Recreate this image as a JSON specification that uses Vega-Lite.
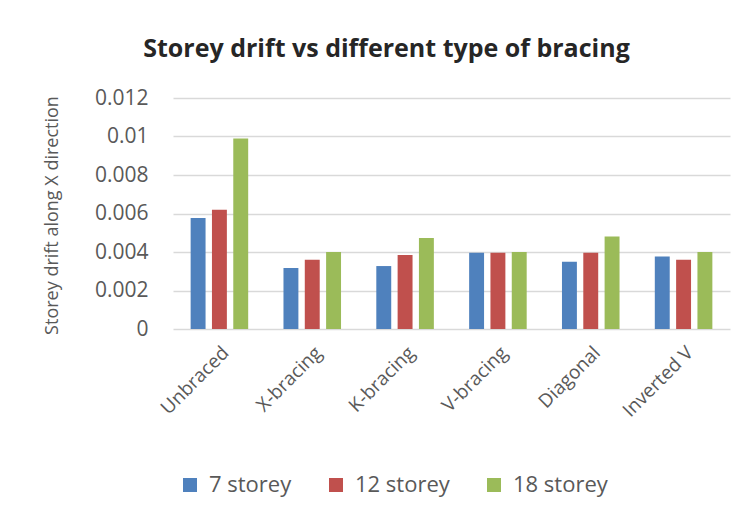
{
  "$schema": "https://vega.github.io/schema/vega-lite/v6.json",
  "autosize": "none",
  "width": 557,
  "height": 231,
  "padding": {"left": 173, "top": 98, "right": 23, "bottom": 189},
  "background": "white",
  "title": {
    "text": "Storey drift vs different type of bracing",
    "font": "Open Sans",
    "fontSize": 25,
    "fontWeight": "bold",
    "color": "#262626",
    "anchor": "middle",
    "dx": -65,
    "offset": 25
  },
  "data": {
    "values": [
      {"bracing": "Unbraced", "series": "7 storey", "drift": 0.00577},
      {"bracing": "Unbraced", "series": "12 storey", "drift": 0.0062},
      {"bracing": "Unbraced", "series": "18 storey", "drift": 0.0099},
      {"bracing": "X-bracing", "series": "7 storey", "drift": 0.00317},
      {"bracing": "X-bracing", "series": "12 storey", "drift": 0.0036},
      {"bracing": "X-bracing", "series": "18 storey", "drift": 0.004},
      {"bracing": "K-bracing", "series": "7 storey", "drift": 0.00327},
      {"bracing": "K-bracing", "series": "12 storey", "drift": 0.00384},
      {"bracing": "K-bracing", "series": "18 storey", "drift": 0.00473},
      {"bracing": "V-bracing", "series": "7 storey", "drift": 0.00396},
      {"bracing": "V-bracing", "series": "12 storey", "drift": 0.00396},
      {"bracing": "V-bracing", "series": "18 storey", "drift": 0.004},
      {"bracing": "Diagonal", "series": "7 storey", "drift": 0.0035},
      {"bracing": "Diagonal", "series": "12 storey", "drift": 0.00396},
      {"bracing": "Diagonal", "series": "18 storey", "drift": 0.0048},
      {"bracing": "Inverted V", "series": "7 storey", "drift": 0.00376},
      {"bracing": "Inverted V", "series": "12 storey", "drift": 0.0036},
      {"bracing": "Inverted V", "series": "18 storey", "drift": 0.004}
    ]
  },
  "mark": {"type": "bar"},
  "encoding": {
    "x": {
      "field": "bracing",
      "type": "nominal",
      "sort": null,
      "scale": {"paddingInner": 0.38, "paddingOuter": 0.19},
      "axis": {
        "title": null,
        "labelAngle": -45,
        "labelAlign": "right",
        "labelBaseline": "top",
        "labelFont": "Open Sans",
        "labelFontSize": 19,
        "labelColor": "#595959",
        "labelPadding": 14,
        "ticks": false,
        "domain": false
      }
    },
    "xOffset": {
      "field": "series",
      "type": "nominal",
      "sort": ["7 storey", "12 storey", "18 storey"],
      "scale": {"paddingInner": 0.3}
    },
    "y": {
      "field": "drift",
      "type": "quantitative",
      "scale": {"domain": [0, 0.012]},
      "axis": {
        "values": [0, 0.002, 0.004, 0.006, 0.008, 0.01, 0.012],
        "format": "~g",
        "title": "Storey drift along X direction",
        "titleFont": "Open Sans",
        "titleFontSize": 18,
        "titleFontWeight": "normal",
        "titleColor": "#595959",
        "titleAngle": -90,
        "titleX": -121,
        "titleY": 117,
        "titleAlign": "center",
        "titleBaseline": "middle",
        "labelFont": "Open Sans",
        "labelFontSize": 21,
        "labelColor": "#595959",
        "labelPadding": 25,
        "ticks": false,
        "domain": false,
        "grid": true,
        "gridColor": "#d9d9d9",
        "gridWidth": 1.5
      }
    },
    "color": {
      "field": "series",
      "type": "nominal",
      "sort": ["7 storey", "12 storey", "18 storey"],
      "scale": {"domain": ["7 storey", "12 storey", "18 storey"], "range": ["#4F81BD", "#C0504D", "#9BBB59"]},
      "legend": {
        "title": null,
        "orient": "none",
        "direction": "horizontal",
        "legendX": 6,
        "legendY": 376,
        "symbolType": "square",
        "symbolSize": 196,
        "symbolStrokeWidth": 0,
        "labelFont": "Open Sans",
        "labelFontSize": 22,
        "labelColor": "#595959",
        "columnPadding": 33,
        "labelOffset": 8
      }
    }
  },
  "config": {"view": {"stroke": null}}
}
